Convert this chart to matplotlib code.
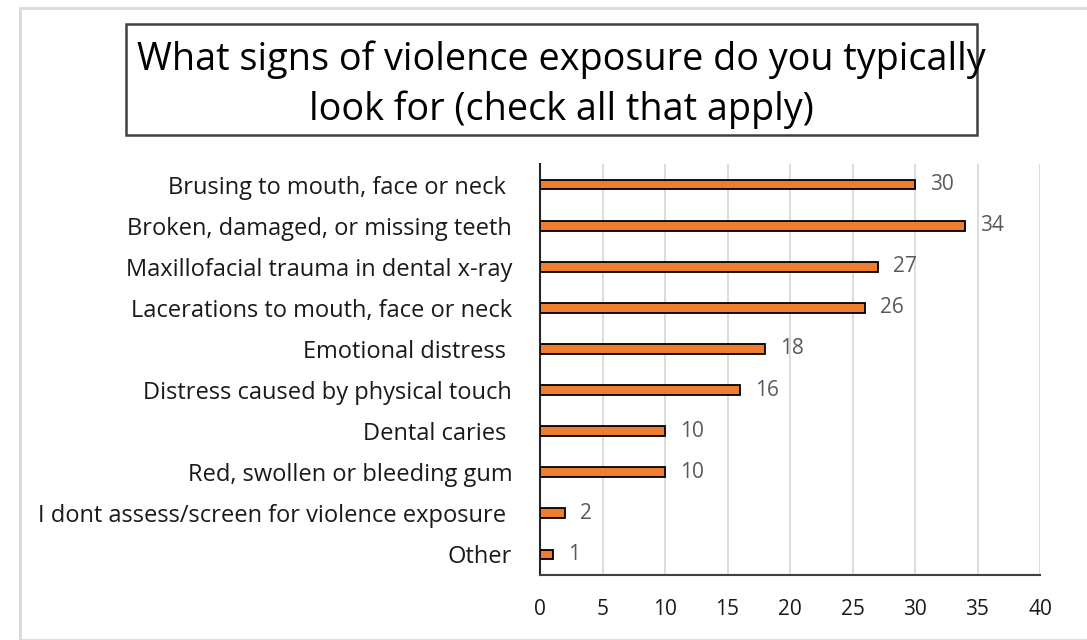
import matplotlib
matplotlib.use("Agg")
import matplotlib.pyplot as plt
from matplotlib.patches import Rectangle

categories = [
    "Brusing to mouth, face or neck ",
    "Broken, damaged, or missing teeth",
    "Maxillofacial trauma in dental x-ray",
    "Lacerations to mouth, face or neck",
    "Emotional distress ",
    "Distress caused by physical touch",
    "Dental caries ",
    "Red, swollen or bleeding gum",
    "I dont assess/screen for violence exposure ",
    "Other",
]
counts = [30, 34, 27, 26, 18, 16, 10, 10, 2, 1]
xticks = [0, 5, 10, 15, 20, 25, 30, 35, 40]
title = "What signs of violence exposure do you typically\nlook for (check all that apply)"

plt.rcParams["font.family"] = ["Open Sans", "DejaVu Sans"]

W, H = 1087, 640
fig = plt.figure(figsize=(W / 100, H / 100), dpi=100)

# light outer frame
fig.patches.append(Rectangle((20 / W, 0), 1.2, (H - 8) / H, transform=fig.transFigure,
                             fill=False, edgecolor="#d9d9d9", linewidth=2))

ax = fig.add_axes([540 / W, 1 - 575 / H, 500 / W, 411 / H])
ypos = list(range(len(categories)))
ax.barh(ypos, counts, height=0.24, color="#ED7D31", edgecolor="black", linewidth=1.3, zorder=3)
for y, v in zip(ypos, counts):
    ax.annotate(str(v), (v, y), xytext=(11, 0), textcoords="offset points",
                va="center", ha="left", fontsize=15, color="#595959")

ax.set_xlim(0, 40)
ax.set_ylim(len(categories) - 0.5, -0.5)
ax.set_xticks(xticks)
ax.set_yticks(ypos)
ax.set_yticklabels(categories, fontsize=17, color="#1a1a1a")
ax.tick_params(axis="y", length=0, pad=20)
ax.tick_params(axis="x", length=0, pad=17, labelsize=15, labelcolor="#1a1a1a")
ax.grid(axis="x", color="#d9d9d9", linewidth=1.3, zorder=0)
for s in ["top", "right"]:
    ax.spines[s].set_visible(False)
ax.spines["left"].set_color("#262626")
ax.spines["left"].set_linewidth(1.5)
ax.spines["bottom"].set_color("#404040")
ax.spines["bottom"].set_linewidth(1.5)

# boxed title
fig.patches.append(Rectangle((126 / W, 1 - 135 / H), 851 / W, 111 / H, transform=fig.transFigure,
                             fill=False, edgecolor="#404040", linewidth=1.8))
fig.text(561 / W, 1 - 85 / H, title, ha="center", va="center", fontsize=27.2,
         linespacing=1.38, color="black")

fig.savefig("out.png", dpi=100, facecolor="white")
